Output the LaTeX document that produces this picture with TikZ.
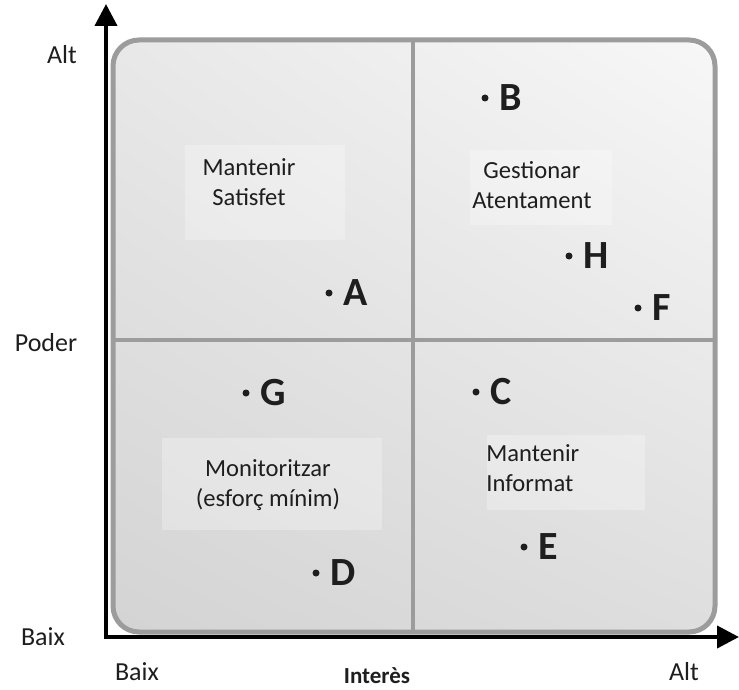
\documentclass[tikz,border=0pt]{standalone}
\usepackage{fontspec}
\setmainfont{Carlito}
\usetikzlibrary{arrows.meta,positioning,shadings}

\definecolor{framegray}{HTML}{9C9C9C}
\definecolor{inkgray}{HTML}{1E1E1E}

\begin{document}
\begin{tikzpicture}[x=0.5pt,y=-0.5pt,
	axis/.style={line width=2pt, -{Triangle[length=11pt,width=11pt]}},
	frame/.style={draw=framegray, line width=2.5pt, rounded corners=13pt},
	divider/.style={draw=framegray, line width=2pt},
	labelbg/.style={fill=white, fill opacity=0.28},
	quadlabel/.style={align=center, inner sep=0pt, font=\fontsize{12.3}{15}\selectfont, text=inkgray},
	point/.style={circle, fill=inkgray, inner sep=0pt, minimum size=3.5pt},
	pointlabel/.style={inner sep=0pt, font=\fontsize{20}{22}\selectfont\bfseries, text=inkgray},
	axislabel/.style={inner sep=0pt, font=\fontsize{13}{15}\selectfont, text=inkgray}]
	\useasboundingbox (0,0) rectangle (739,690);

	% grey board with the four quadrants
	\shade[rounded corners=13pt, upper left=gray!18, upper right=gray!6,
		lower left=gray!34, lower right=gray!26] (113,40) rectangle (715,632);
	\fill[labelbg] (185,145) rectangle (345,240);
	\fill[labelbg] (470,150) rectangle (612,225);
	\fill[labelbg] (162,438) rectangle (382,530);
	\fill[labelbg] (487,435) rectangle (645,510);
	\draw[frame] (113,40) rectangle (715,632);
	\draw[divider] (413,40) -- (413,632);
	\draw[divider] (113,340) -- (715,340);

	\node[quadlabel] (satisfet) at (249,182) {Mantenir\\Satisfet};
	\node[quadlabel] (gestionar) at (532,185) {Gestionar\\Atentament};
	\node[quadlabel] (monitor) at (268,485) {Monitoritzar\\(esforç mínim)};
	\node[quadlabel, align=left, anchor=west] (informat) at (486,468) {Mantenir\\Informat};

	% stakeholders
	\foreach \name/\px/\py in {A/329/293, B/485/98, C/476/392, D/316/573,
		E/524/547, F/638/308, G/246/393, H/569/256}{
		\node[point] (dot\name) at (\px,\py) {};
		\node[pointlabel, right=5pt of dot\name] (lab\name) {\name};
	}

	% axes
	\coordinate (origin) at (106,637);
	\coordinate (ytop) at (106,4);
	\coordinate (xend) at (739,637);
	\draw[axis] ([yshift=-1pt]origin) -- (ytop);
	\draw[axis] (origin) -- (xend);

	\node[axislabel] (ytop label) at (62,55) {Alt};
	\node[axislabel] (ylabel) at (46,343) {Poder};
	\node[axislabel] (ylow label) at (43,637) {Baix};
	\node[axislabel] (xlow label) at (137,672) {Baix};
	\node[axislabel, font=\fontsize{11.5}{14}\selectfont\bfseries] (xlabel) at (377,676) {Interès};
	\node[axislabel] (xtop label) at (684,672) {Alt};
\end{tikzpicture}
\end{document}
